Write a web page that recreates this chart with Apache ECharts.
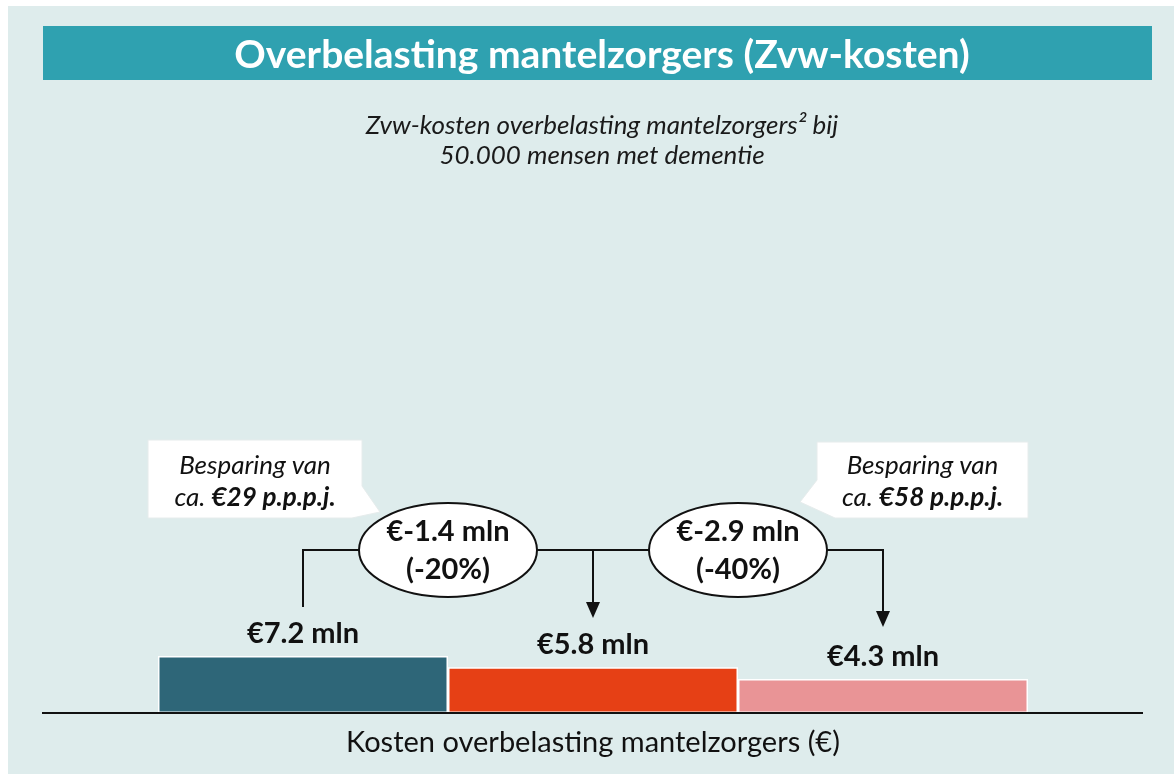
<!DOCTYPE html>
<html>
<head>
<meta charset="utf-8">
<script src="https://cdn.jsdelivr.net/npm/echarts@6/dist/echarts.min.js"></script>
<style>
  html, body { margin: 0; padding: 0; background: #fff; }
  #chart { width: 1174px; height: 774px; }
</style>
</head>
<body>
<div id="chart"></div>
<script>
// scenario's (kosten in mln euro)
const categories = ["Huidig", "Scenario 20%", "Scenario 40%"];
const costs = [7.2, 5.8, 4.3];
const barColors = ["#2e6678", "#e64015", "#e99496"];
const savings = ["€-1.4 mln", "€-2.9 mln"];
const savingPct = ["(-20%)", "(-40%)"];
const perPerson = ["€29 p.p.p.j.", "€58 p.p.p.j."];

const font = "Lato, 'Open Sans', sans-serif";

let chart = echarts.init(document.getElementById("chart"));

let option = {
  backgroundColor: "#ffffff",
  animation: false,
  title: [
    {
      text: "Overbelasting mantelzorgers (Zvw-kosten)",
      left: 597,
      textAlign: "center",
      top: 31,
      textStyle: { color: "#fff", fontSize: 39, fontWeight: "bold", fontFamily: font }
    },
    {
      text: "Zvw-kosten overbelasting mantelzorgers² bij\n50.000 mensen met dementie",
      left: 597,
      textAlign: "center",
      top: 106,
      textStyle: { color: "#1a1a1a", fontSize: 26, fontStyle: "italic", fontWeight: "normal", fontFamily: font, lineHeight: 30 }
    }
  ],
  grid: { left: 158, right: 146, top: 634, bottom: 61 },
  xAxis: {
    type: "category",
    data: categories,
    axisLine: { show: false },
    axisTick: { show: false },
    axisLabel: { show: false },
    name: "Kosten overbelasting mantelzorgers (€)",
    nameLocation: "middle",
    nameGap: 15,
    nameTextStyle: { color: "#111", fontSize: 29, fontFamily: font }
  },
  yAxis: {
    type: "value",
    min: 0,
    max: 10,
    show: false
  },
  series: [
    {
      type: "bar",
      barWidth: "100%",
      barCategoryGap: 0,
      data: costs.map((v, i) => ({ value: v, itemStyle: { color: barColors[i] } })),
      itemStyle: { borderColor: "#fff", borderWidth: 1.5 },
      label: {
        show: true,
        position: "top",
        distance: 8,
        formatter: (p) => "€" + p.value + " mln",
        color: "#111",
        fontSize: 29,
        fontWeight: "bold",
        fontFamily: font
      },
      z: 3
    }
  ]
};
chart.setOption(option);

// annotaties op basis van de barposities
function drawAnnotations() {
  let cx = categories.map((c) => chart.convertToPixel({ xAxisIndex: 0 }, c));
  let lineY = 550;
  let els = [];
  // paneel + kopbalk
  els.push({ type: "rect", shape: { x: 8, y: 6, width: 1166, height: 768 }, style: { fill: "#deecec" }, z: -10 });
  els.push({ type: "rect", shape: { x: 43, y: 26, width: 1109, height: 54 }, style: { fill: "#2fa1b0" }, z: -9 });
  // x-as
  els.push({ type: "line", shape: { x1: 42, y1: 713, x2: 1143, y2: 713 }, style: { stroke: "#111", lineWidth: 2 }, z: 10 });
  // verbindingslijnen
  els.push({ type: "polyline", shape: { points: [[cx[0], 607], [cx[0], lineY], [cx[2], lineY], [cx[2], 612]] }, style: { stroke: "#111", lineWidth: 2, fill: null }, z: 5 });
  els.push({ type: "line", shape: { x1: cx[1], y1: lineY, x2: cx[1], y2: 604 }, style: { stroke: "#111", lineWidth: 2 }, z: 5 });
  // pijlpunten
  [[cx[1], 618], [cx[2], 627]].forEach((t) => {
    els.push({ type: "polygon", shape: { points: [[t[0] - 7, t[1] - 16], [t[0] + 7, t[1] - 16], [t[0], t[1]]] }, style: { fill: "#111" }, z: 6 });
  });
  // ellipsen met besparing
  for (let i = 0; i < 2; i++) {
    let ex = (cx[i] + cx[i + 1]) / 2;
    els.push({ type: "ellipse", shape: { cx: ex, cy: 550, rx: 89, ry: 47 }, style: { fill: "#fff", stroke: "#111", lineWidth: 2 }, z: 7 });
    els.push({
      type: "text", x: ex, y: 551, z: 8,
      style: {
        text: savings[i] + "\n" + savingPct[i],
        align: "center", verticalAlign: "middle",
        fill: "#111", fontSize: 29, fontWeight: "bold", fontFamily: font, lineHeight: 38
      }
    });
  }
  // tekstballonnen
  let boxes = [
    { x: 148, y: 440, w: 214, h: 78, tail: [[362, 486], [380, 512], [352, 518]] },
    { x: 817, y: 442, w: 211, h: 76, tail: [[835, 518], [800, 502], [817, 480]] }
  ];
  boxes.forEach((b, i) => {
    let pts;
    if (i === 0) {
      pts = [[b.x, b.y], [b.x + b.w, b.y], b.tail[0], b.tail[1], b.tail[2], [b.x, b.y + b.h]];
    } else {
      pts = [[b.x, b.y], [b.x + b.w, b.y], [b.x + b.w, b.y + b.h], b.tail[0], b.tail[1], b.tail[2]];
    }
    els.push({ type: "polygon", shape: { points: pts }, style: { fill: "#fff", stroke: "#e6ecec", lineWidth: 1 }, z: 4 });
    els.push({
      type: "text", x: b.x + b.w / 2, y: 482, z: 8,
      style: {
        text: "{n|Besparing van}\n{n|ca. }{b|" + perPerson[i] + "}",
        align: "center", verticalAlign: "middle",
        rich: {
          n: { fontSize: 26, fontStyle: "italic", fontFamily: font, fill: "#111", lineHeight: 32 },
          b: { fontSize: 26, fontStyle: "italic", fontWeight: "bold", fontFamily: font, fill: "#111", lineHeight: 32 }
        }
      }
    });
  });
  chart.setOption({ graphic: { elements: els } });
}
drawAnnotations();
</script>
</body>
</html>
